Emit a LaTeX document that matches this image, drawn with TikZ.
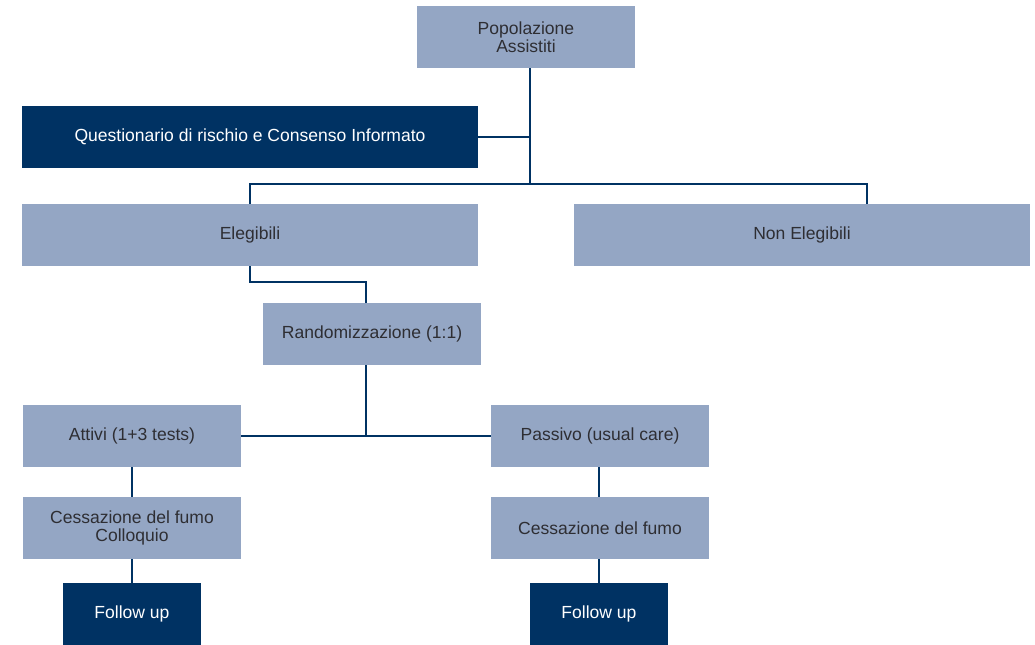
\documentclass[tikz,border=0pt]{standalone}
\usepackage{fontspec}
\setmainfont{Liberation Sans}
\usepackage{xcolor}
\usetikzlibrary{positioning,calc}
\definecolor{boxlight}{HTML}{94A6C4}
\definecolor{boxdark} {HTML}{003263}
\definecolor{txt}     {HTML}{2E2E33}
\tikzset{
  pale/.style  = {fill=boxlight, text=txt, minimum height=62bp, minimum width=218bp,
                  align=center, inner sep=0pt,
                  font=\fontsize{17.6}{18}\selectfont},
  deep/.style  = {pale, fill=boxdark, text=white},
  wide/.style  = {minimum width=456bp},
  link/.style  = {draw=boxdark, line width=2.6bp},
}
\begin{document}
\begin{tikzpicture}[x=1bp, y=-1bp]
  \useasboundingbox (0,0) rectangle (1035,645);

  % top
  \node[pale] (pop) at (526,37) {Popolazione\\Assistiti};
  \node[deep, wide] (quest) at (250,137) {Questionario di rischio e Consenso Informato};

  % eligibility
  \node[pale, wide] (eleg) at (250,235) {Elegibili};
  \node[pale, wide] (noneleg) at (802,235) {Non Elegibili};
  \node[pale] (rand) at (372,334) {Randomizzazione (1:1)};

  % arms
  \node[pale] (attivi) at (132,436) {Attivi (1+3 tests)};
  \node[pale] (passivo) at (600,436) {Passivo (usual care)};
  \node[pale] (cessA) at (132,528) {Cessazione del fumo\\Colloquio};
  \node[pale] (cessP) at (600,528) {Cessazione del fumo};
  \node[deep, minimum width=138bp] (followA) at (132,614) {Follow up};
  \node[deep, minimum width=138bp] (followP) at (599,614) {Follow up};

  % junctions
  \coordinate (jtop) at (530,184);
  \coordinate (jne)  at (867,184);
  \coordinate (jr)   at (366,282);

  % connectors
  \draw[link] (pop.south -| jtop) -- (jtop);
  \draw[link] (quest.east) -- (quest.east -| jtop);
  \draw[link] (eleg.north) |- (jne) -- (jne |- noneleg.north);
  \draw[link] (eleg.south) |- (jr) -- (jr |- rand.north);
  \draw[link] (jr |- rand.south) -- (jr |- attivi.east);
  \draw[link] (attivi.east) -- (passivo.west);
  \draw[link] (attivi.south) -- (cessA.north);
  \draw[link] (cessA.south) -- (followA.north);
  \draw[link] (passivo.south -| followP) -- (cessP.north -| followP);
  \draw[link] (cessP.south -| followP) -- (followP.north);
\end{tikzpicture}
\end{document}
